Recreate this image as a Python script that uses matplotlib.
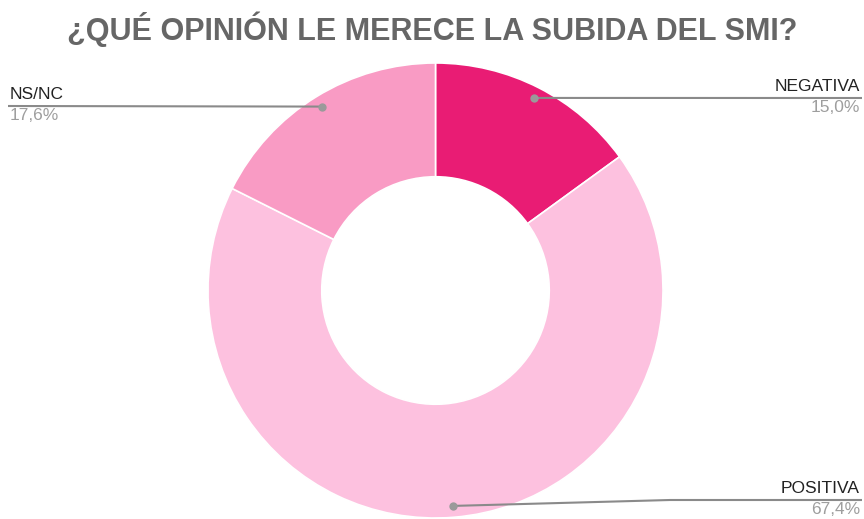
import numpy as np
import matplotlib.pyplot as plt

plt.rcParams['font.family'] = ['Liberation Sans', 'DejaVu Sans']

# Data
labels = ['NEGATIVA', 'POSITIVA', 'NS/NC']
values = [15.0, 67.4, 17.6]
colors = ['#E91C74', '#FDC1DF', '#F99BC4']
title = '¿QUÉ OPINIÓN LE MERECE LA SUBIDA DEL SMI?'

W, H = 864, 519
fig = plt.figure(figsize=(W / 100, H / 100), dpi=100)
ax = fig.add_axes([0, 0, 1, 1])
ax.set_xlim(0, W)
ax.set_ylim(0, H)
ax.set_aspect('equal')
ax.axis('off')

cx, cy, R = 435.5, H - 290.5, 227.5
wedges, _ = ax.pie(values, colors=colors, startangle=90, counterclock=False,
                   center=(cx, cy), radius=R, frame=True,
                   wedgeprops=dict(width=R * 0.5, edgecolor='white', linewidth=1.2))
ax.set_xlim(0, W)
ax.set_ylim(0, H)
ax.axis('off')

fig.text(0.5, 1 - 29 / H, title, ha='center', va='center', fontsize=22,
         fontweight='bold', color='#666666')

# label layout: (line y in px from top, side, bend x)
layout = {
    'NEGATIVA': (98, 'right', None),
    'POSITIVA': (500, 'right', 670),
    'NS/NC': (106, 'left', None),
}

cum = 0.0
for lab, val in zip(labels, values):
    mid = (cum + val / 2) / 100 * 2 * np.pi
    cum += val
    px = cx + 0.95 * R * np.sin(mid)
    py = cy + 0.95 * R * np.cos(mid)
    ly, side, bend = layout[lab]
    ly = H - ly
    xe = W - 2 if side == 'right' else 8
    if bend is None:
        xs, ys = [px, xe], [py, ly]
    else:
        xs, ys = [px, bend, xe], [py, ly, ly]
    ax.plot(xs, ys, color='#8a8a8a', lw=1.5, solid_capstyle='butt', zorder=5)
    ax.plot([px], [py], 'o', ms=6, color='#9a9a9a', mec='none', zorder=6)
    tx = W - 4 if side == 'right' else 10
    ha = 'right' if side == 'right' else 'left'
    ax.text(tx, ly + 4, lab, ha=ha, va='bottom', fontsize=12.5, color='#222222')
    ax.text(tx, ly - 2, f'{val:.1f}%'.replace('.', ','), ha=ha, va='top',
            fontsize=12.5, color='#9e9e9e')

fig.savefig('out.png', dpi=100, facecolor='white')
